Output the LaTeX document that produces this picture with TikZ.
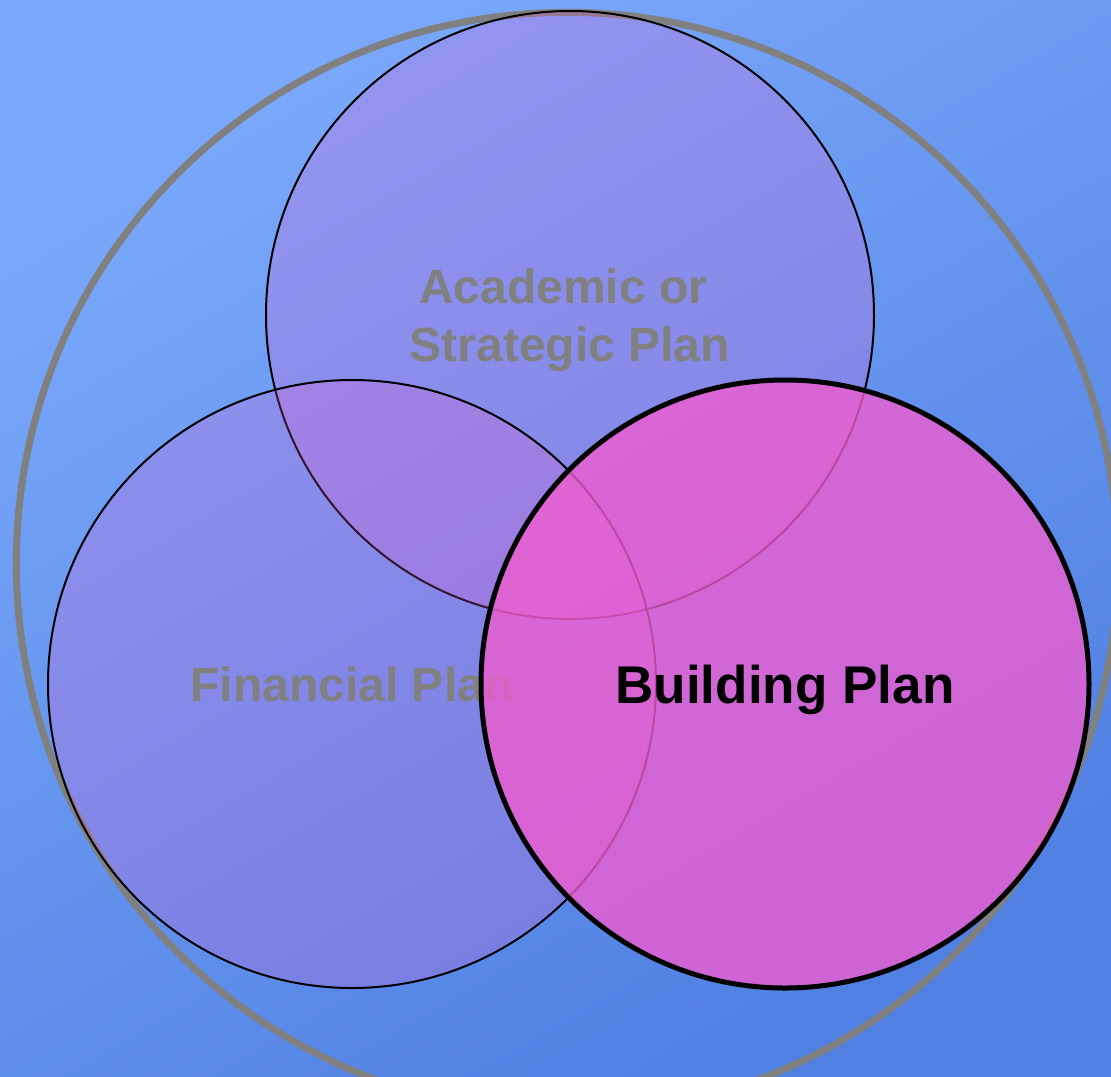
\documentclass[tikz,border=0pt]{standalone}
\usepackage{fontspec}
\setmainfont{Liberation Sans}
\usepackage{tikz}
\usetikzlibrary{shapes,positioning}
\definecolor{bgtop}{RGB}{122,168,250}
\definecolor{bgbot}{RGB}{80,128,226}
\definecolor{planpink}{RGB}{242,92,208}
\definecolor{labelgray}{RGB}{128,128,128}
\tikzset{
  plan/.style={circle,draw=black,inner sep=0pt,minimum size=456pt,align=center,
    text depth=0pt,text opacity=1},
  subplan/.style={plan,line width=1.5pt,fill=planpink,fill opacity=0.22,text=labelgray,
    font=\bfseries\fontsize{36}{43}\selectfont},
  mainplan/.style={plan,line width=3.75pt,fill=planpink,fill opacity=0.78,text=black,
    font=\bfseries\fontsize{39.8}{46}\selectfont}
}
\begin{document}
\begin{tikzpicture}[x=0.75pt,y=-0.75pt]
		\useasboundingbox (0,0) rectangle (1111,1076);
		\clip (0,0) rectangle (1111,1076);
		\shade[top color=bgtop,bottom color=bgbot,shading angle=30] (0,0) rectangle (1111,1076);
		\node[circle,draw=labelgray,line width=5.25pt,inner sep=0pt,minimum size=826pt] (campus) at (567,563) {};
		\node[subplan] (academic) at (570,315) {\mbox{Academic or\ }\\Strategic Plan};
		\node[subplan] (financial) at (352,684) {Financial Plan};
		\node[mainplan] (building) at (785,684) {Building Plan};
	\end{tikzpicture}
\end{document}
